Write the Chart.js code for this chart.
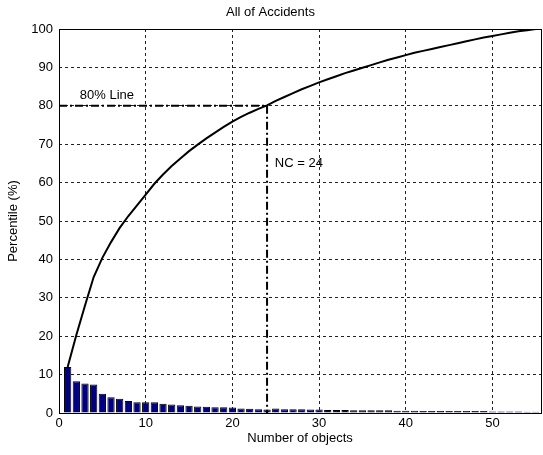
<!DOCTYPE html>
<html>
<head>
<meta charset="utf-8">
<title>All of Accidents</title>
<script src="https://cdn.jsdelivr.net/npm/chart.js@4.4.1/dist/chart.umd.min.js"></script>
<style>
  html, body { margin: 0; padding: 0; background: #fff; overflow: hidden; }
</style>
</head>
<body>
<canvas id="paretoChart" width="543" height="455"></canvas>
<script>
// objects ranked by their share of accidents
const objectRank = [
     1,  2,  3,  4,  5,  6,  7,  8,  9, 10,
    11, 12, 13, 14, 15, 16, 17, 18, 19, 20,
    21, 22, 23, 24, 25, 26, 27, 28, 29, 30,
    31, 32, 33, 34, 35, 36, 37, 38, 39, 40,
    41, 42, 43, 44, 45, 46, 47, 48, 49, 50,
    51, 52, 53, 54, 55
];

// share of each object (%)
const objectShare = [
    12.0, 8.3, 7.7, 7.4, 5.0, 4.1, 3.7, 3.1, 2.8, 2.8,
    2.8, 2.4, 2.2, 2.0, 1.9, 1.7, 1.6, 1.5, 1.5, 1.4,
    1.2, 1.1, 1.0, 0.9, 1.2, 1.0, 1.0, 1.0, 0.9, 0.9,
    0.8, 0.8, 0.8, 0.7, 0.7, 0.7, 0.7, 0.7, 0.6, 0.6,
    0.6, 0.5, 0.5, 0.5, 0.5, 0.5, 0.5, 0.5, 0.5, 0.4,
    0.4, 0.4, 0.4, 0.3, 0.3
];

// cumulative percentile (%)
const cumulativePct = [
    12.0, 20.3, 28.0, 35.4, 40.4, 44.5, 48.2, 51.3, 54.1, 56.9,
    59.7, 62.1, 64.3, 66.3, 68.2, 69.9, 71.5, 73.0, 74.5, 75.9,
    77.1, 78.2, 79.2, 80.1, 81.3, 82.3, 83.3, 84.3, 85.2, 86.1,
    86.9, 87.7, 88.5, 89.2, 89.9, 90.6, 91.3, 92.0, 92.6, 93.2,
    93.8, 94.3, 94.8, 95.3, 95.8, 96.3, 96.8, 97.3, 97.8, 98.2,
    98.6, 99.0, 99.4, 99.7, 100.0
];

// 80% cut-off and the number of objects needed to reach it
const cutoffPct = 80;
const cutoffCount = 24;

const xTicks = [0, 10, 20, 30, 40, 50];
const yTicks = [0, 10, 20, 30, 40, 50, 60, 70, 80, 90, 100];

const FONT = 'Liberation Sans, Arial, sans-serif';

// axes box (MATLAB draws all four sides)
const axesBox = {
    id: 'axesBox',
    afterDraw(chart) {
        const { ctx, chartArea: a } = chart;
        ctx.save();
        ctx.strokeStyle = '#000';
        ctx.lineWidth = 1;
        ctx.strokeRect(a.left + 0.5, a.top + 0.5, a.right - a.left, a.bottom - a.top);
        ctx.restore();
    }
};

// text labels next to the cut-off lines
const cutoffText = {
    id: 'cutoffText',
    afterDatasetsDraw(chart) {
        const { ctx, scales: { x, y } } = chart;
        ctx.save();
        ctx.font = '13px ' + FONT;
        ctx.fillStyle = '#000';
        ctx.textAlign = 'left';
        ctx.textBaseline = 'middle';
        ctx.fillText(cutoffPct + '% Line', x.getPixelForValue(2.4), y.getPixelForValue(82.6));
        ctx.fillText('NC = ' + cutoffCount, x.getPixelForValue(24.9), y.getPixelForValue(65));
        ctx.restore();
    }
};

const ctx = document.getElementById('paretoChart').getContext('2d');
new Chart(ctx, {
    type: 'bar',
    data: {
        datasets: [
            {
                type: 'line',
                data: cumulativePct.map((v, i) => ({ x: objectRank[i], y: v })),
                borderColor: '#000',
                borderWidth: 2,
                pointRadius: 0,
                tension: 0,
                order: 1
            },
            {
                type: 'line',
                data: [
                    { x: 0, y: cutoffPct },
                    { x: cutoffCount, y: cutoffPct },
                    { x: cutoffCount, y: 0 }
                ],
                borderColor: '#000',
                borderWidth: 2,
                borderDash: [8, 3, 2, 3],
                pointRadius: 0,
                tension: 0,
                order: 0
            },
            {
                type: 'bar',
                data: objectShare.map((v, i) => ({ x: objectRank[i], y: v })),
                backgroundColor: '#000080',
                borderColor: '#000',
                borderWidth: 1,
                barPercentage: 0.84,
                categoryPercentage: 1,
                order: 2
            }
        ]
    },
    options: {
        responsive: false,
        animation: false,
        layout: { padding: { left: 0, right: 2, top: 0, bottom: 0 } },
        plugins: {
            legend: { display: false },
            tooltip: { enabled: false },
            title: {
                display: true,
                text: 'All of Accidents',
                color: '#000',
                font: { family: FONT, size: 13, weight: 'normal' },
                padding: { top: 5, bottom: 8.4 }
            }
        },
        scales: {
            x: {
                type: 'linear',
                min: 0,
                max: 55.6,
                offset: false,
                afterBuildTicks(scale) {
                    scale.ticks = xTicks.map(v => ({ value: v }));
                },
                afterFit(scale) { scale.height = 42; },
                grid: { color: '#222', lineWidth: 1, drawTicks: false, offset: false },
                border: { display: false, dash: [3, 3] },
                ticks: {
                    color: '#000',
                    font: { family: FONT, size: 13 },
                    padding: 3,
                    maxRotation: 0
                },
                title: {
                    display: true,
                    text: 'Number of objects',
                    color: '#000',
                    font: { family: FONT, size: 13 },
                    padding: { top: 0, bottom: 9 }
                }
            },
            y: {
                min: 0,
                max: 100,
                afterBuildTicks(scale) {
                    scale.ticks = yTicks.map(v => ({ value: v }));
                },
                afterFit(scale) { scale.width = 59; },
                grid: { color: '#222', lineWidth: 1, drawTicks: false },
                border: { display: false, dash: [3, 3] },
                ticks: {
                    color: '#000',
                    font: { family: FONT, size: 13 },
                    padding: 6
                },
                title: {
                    display: true,
                    text: 'Percentile (%)',
                    color: '#000',
                    font: { family: FONT, size: 13 },
                    padding: { top: 6, bottom: 0 }
                }
            }
        }
    },
    plugins: [axesBox, cutoffText]
});
</script>
</body>
</html>
